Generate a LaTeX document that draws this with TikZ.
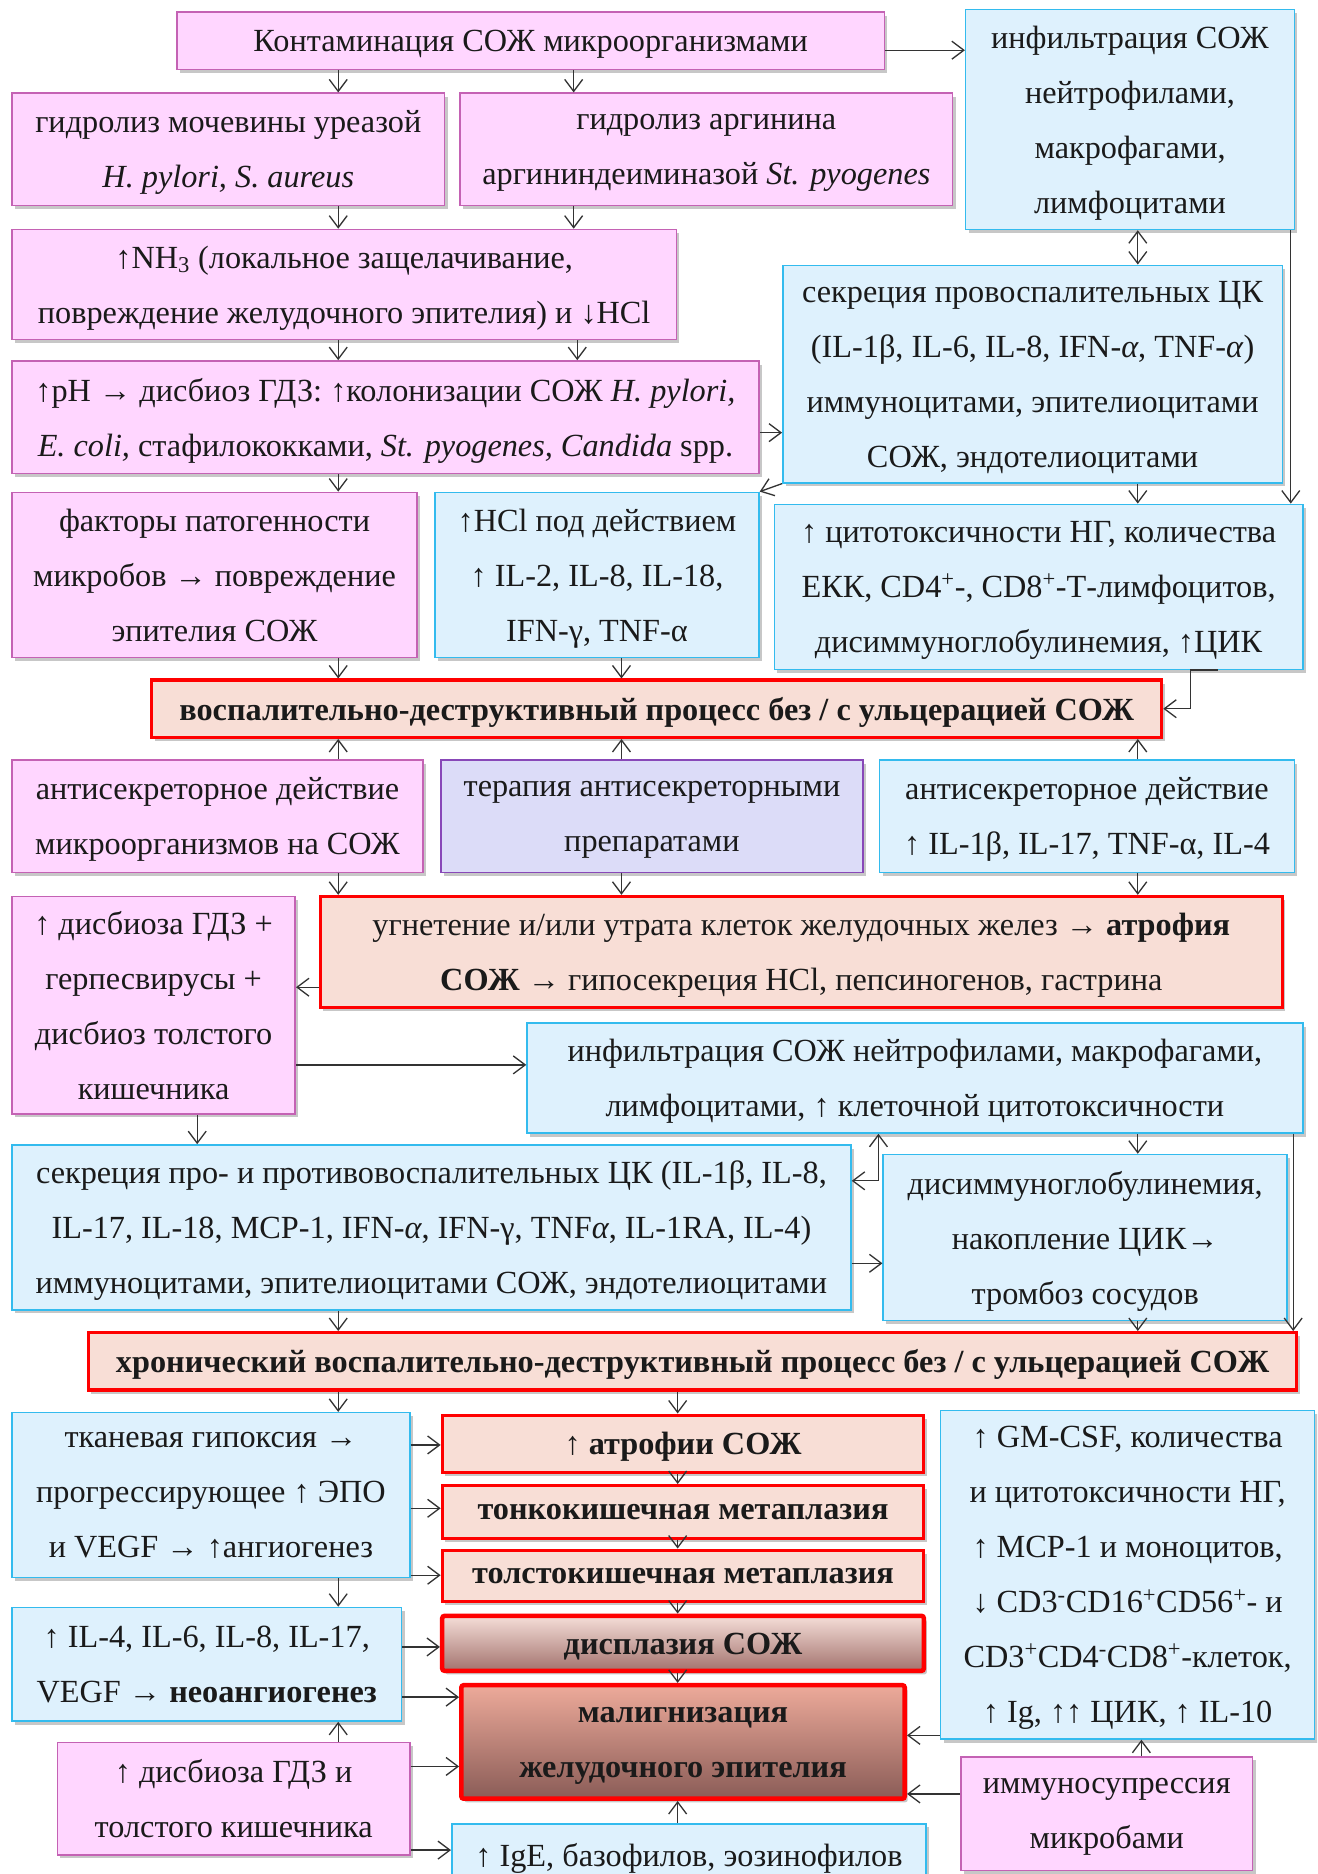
\documentclass[tikz,border=0pt]{standalone}
\usepackage{fontspec}
\setmainfont{Liberation Serif}
\usetikzlibrary{arrows.meta, shadows, calc}
\definecolor{pinkfill}{HTML}{FFD6FF}
\definecolor{pinkline}{HTML}{C462B4}
\definecolor{bluefill}{HTML}{DEF1FD}
\definecolor{blueline}{HTML}{33BBEE}
\definecolor{redfill}{HTML}{F8DED6}
\definecolor{redline}{HTML}{FF0000}
\definecolor{lilacfill}{HTML}{DCDCF8}
\definecolor{lilacline}{HTML}{8848B8}
\definecolor{displtop}{HTML}{F5DED8}
\definecolor{displbot}{HTML}{A3736E}
\definecolor{maligtop}{HTML}{EDAA9A}
\definecolor{maligbot}{HTML}{8A5C57}
\definecolor{arrgray}{HTML}{333333}
\definecolor{txtmain}{HTML}{1A1A1A}
\tikzset{
  basebox/.style={inner sep=0pt, align=center, text=txtmain, text depth=0pt,
                  font=\fontsize{27}{46}\selectfont,
                  drop shadow={shadow xshift=2.5pt, shadow yshift=-3pt,
                               fill=black, opacity=0.22}},
  pinkbox/.style={basebox, draw=pinkline, fill=pinkfill, line width=1.3pt},
  bluebox/.style={basebox, draw=blueline, fill=bluefill, line width=1.3pt},
  lilacbox/.style={basebox, draw=lilacline, fill=lilacfill, line width=1.3pt},
  redbox/.style={basebox, draw=redline, fill=redfill, line width=2.6pt,
                 font=\fontsize{27}{46}\selectfont\bfseries},
  redtext/.style={basebox, draw=redline, fill=redfill, line width=2.6pt},
  shadebox/.style 2 args={redbox, line width=3.8pt, rounded corners=2pt,
                          top color=#1, bottom color=#2},
  sz/.style 2 args={minimum width=#1pt, minimum height=#2pt},
  arr/.style={-{Straight Barb[length=10pt, width=15pt]}, line width=1.1pt, draw=arrgray},
  dblarr/.style={{Straight Barb[length=10pt, width=15pt]}-{Straight Barb[length=10pt, width=15pt]},
                 line width=1.1pt, draw=arrgray},
}

\begin{document}
\begin{tikzpicture}[x=1pt, y=-1pt]
  \clip (0,0) rectangle (1102,1568);
  \fill[white] (0,0) rectangle (1102,1568);

  % top block
  \node[pinkbox, sz={592}{48}] (kont) at (444,34) {Контаминация СОЖ микроорганизмами};
  \node[bluebox, sz={275}{184}] (infil) at (945.5,100) {инфильтрация СОЖ\\нейтрофилами,\\макрофагами,\\лимфоцитами};
  \node[pinkbox, sz={362}{94}] (urea) at (191,125) {гидролиз мочевины уреазой\\\textit{H. pylori, S. aureus}};
  \node[pinkbox, sz={412}{94}] (argin) at (591,125) {гидролиз аргинина\\аргининдеиминазой \textit{St. pyogenes}};
  \node[pinkbox, sz={556}{92}] (nh3) at (288,238) {↑NH\textsubscript{3} (локальное защелачивание,\\повреждение желудочного эпителия) и ↓HCl};
  \node[bluebox, sz={418}{182}] (sekr) at (864,313) {секреция провоспалительных ЦК\\(IL-1β, IL-6, IL-8, IFN-\textit{α}, TNF-\textit{α})\\иммуноцитами, эпителиоцитами\\СОЖ, эндотелиоцитами};
  \node[pinkbox, sz={625}{94}] (ph) at (322.5,349) {↑pH → дисбиоз ГДЗ: ↑колонизации СОЖ \textit{H. pylori,}\\\textit{E. coli,} стафилококками, \textit{St. pyogenes, Candida} spp.};
  \node[pinkbox, sz={339}{138}] (fakt) at (179.5,481) {факторы патогенности\\микробов → повреждение\\эпителия СОЖ};
  \node[bluebox, sz={271}{138}] (hcl) at (499.5,481) {↑HCl под действием\\↑ IL-2, IL-8, IL-18,\\IFN-γ, TNF-α};
  \node[bluebox, sz={442}{138}] (cyto) at (869,491) {↑ цитотоксичности НГ, количества\\ЕКК, CD4\textsuperscript{+}-, CD8\textsuperscript{+}-Т-лимфоцитов,\\дисиммуноглобулинемия, ↑ЦИК};
  \node[redbox, sz={845}{48}] (vdp) at (549.5,593) {воспалительно-деструктивный процесс без / с ульцерацией СОЖ};

  % middle block
  \node[pinkbox, sz={344}{94}] (asm) at (182,683) {антисекреторное действие\\микроорганизмов на СОЖ};
  \node[lilacbox, sz={353}{94}] (ter) at (545.5,683) {терапия антисекреторными\\препаратами};
  \node[bluebox, sz={347}{94}] (asil) at (909.5,683) {антисекреторное действие\\↑ IL-1β, IL-17, TNF-α, IL-4};
  \node[pinkbox, sz={237}{182}] (disb1) at (128.5,841) {↑ дисбиоза ГДЗ +\\герпесвирусы +\\дисбиоз толстого\\кишечника};
  \node[redtext, sz={805}{93}] (ugn) at (670.5,796.5) {угнетение и/или утрата клеток желудочных желез → \textbf{атрофия}\\\textbf{СОЖ} → гипосекреция HCl, пепсиногенов, гастрина};
  \node[bluebox, sz={649}{92}] (infil2) at (765.5,902) {инфильтрация СОЖ нейтрофилами, макрофагами,\\лимфоцитами, ↑ клеточной цитотоксичности};
  \node[bluebox, sz={702}{138}] (sekr2) at (361,1027) {секреция про- и противовоспалительных ЦК (IL-1β, IL-8,\\IL-17, IL-18, MCP-1, IFN-\textit{α}, IFN-γ, TNF\textit{α}, IL-1RA, IL-4)\\иммуноцитами, эпителиоцитами СОЖ, эндотелиоцитами};
  \node[bluebox, sz={338}{139}] (dys) at (908,1035.5) {дисиммуноглобулинемия,\\накопление ЦИК→\\тромбоз сосудов};
  \node[redbox, sz={1011}{48}] (hron) at (579.5,1139) {хронический воспалительно-деструктивный процесс без / с ульцерацией СОЖ};

  % bottom block
  \node[bluebox, sz={333}{138}] (tkan) at (176.5,1251) {тканевая гипоксия →\\прогрессирующее ↑ ЭПО\\и VEGF → ↑ангиогенез};
  \node[redbox, sz={403}{48}] (atr) at (571.5,1208) {↑ атрофии СОЖ};
  \node[redbox, sz={403}{44}] (tonk) at (571.5,1265) {тонкокишечная метаплазия};
  \node[redbox, sz={403}{43}] (tolst) at (571.5,1318.5) {толстокишечная метаплазия};
  \node[shadebox={displtop}{displbot}, sz={403}{46}] (displ) at (571.5,1375) {дисплазия СОЖ};
  \node[bluebox, sz={313}{275}] (gm) at (943.5,1317.5) {↑ GM-CSF, количества\\и цитотоксичности НГ,\\↑ MCP-1 и моноцитов,\\↓ CD3\textsuperscript{-}CD16\textsuperscript{+}CD56\textsuperscript{+}- и\\CD3\textsuperscript{+}CD4\textsuperscript{-}CD8\textsuperscript{+}-клеток,\\↑ Ig, ↑↑ ЦИК, ↑ IL-10};
  \node[bluebox, sz={326}{95}] (il4) at (173,1392.5) {↑ IL-4, IL-6, IL-8, IL-17,\\VEGF → \textbf{неоангиогенез}};
  \node[shadebox={maligtop}{maligbot}, sz={371}{95}] (malig) at (571.5,1457.5) {малигнизация\\желудочного эпителия};
  \node[pinkbox, sz={295}{94}] (disb2) at (195.5,1505) {↑ дисбиоза ГДЗ и\\толстого кишечника};
  \node[pinkbox, sz={244}{95}] (imm) at (926,1517.5) {иммуносупрессия\\микробами};
  \node[bluebox, sz={397}{52}] (ige) at (576.5,1552) {↑ IgE, базофилов, эозинофилов};

  % arrows top
  \draw[arr] (283,0 |- kont.south) -- (283,0 |- urea.north);
  \draw[arr] (480,0 |- kont.south) -- (480,0 |- argin.north);
  \draw[arr] (kont.east |- 0,42) -- (infil.west |- 0,42);
  \draw[arr] (283,0 |- urea.south) -- (283,0 |- nh3.north);
  \draw[arr] (480,0 |- argin.south) -- (480,0 |- nh3.north);
  \draw[arr] (283,0 |- nh3.south) -- (283,0 |- ph.north);
  \draw[arr] (483,0 |- nh3.south) -- (483,0 |- ph.north);
  \draw[dblarr] (952,0 |- infil.south) -- (952,0 |- sekr.north);
  \draw[arr] (1080,0 |- infil.south) -- (1080,0 |- cyto.north);
  \draw[arr] (ph.east |- 0,362) -- (sekr.west |- 0,362);
  \draw[arr] (sekr.south west) -- (hcl.north east);
  \draw[arr] (952,0 |- sekr.south) -- (952,0 |- cyto.north);
  \draw[arr] (283,0 |- ph.south) -- (283,0 |- fakt.north);
  \draw[arr] (283,0 |- fakt.south) -- (283,0 |- vdp.north);
  \draw[arr] (520,0 |- hcl.south) -- (520,0 |- vdp.north);
  \draw[arr] ([xshift=150pt]cyto.south) -- ++(-23,0) |- (vdp.east);

  % arrows middle
  \draw[arr] (283,0 |- asm.north) -- (283,0 |- vdp.south);
  \draw[arr] (520,0 |- ter.north) -- (520,0 |- vdp.south);
  \draw[arr] (952,0 |- asil.north) -- (952,0 |- vdp.south);
  \draw[arr] (283,0 |- asm.south) -- (283,0 |- ugn.north);
  \draw[arr] (520,0 |- ter.south) -- (520,0 |- ugn.north);
  \draw[arr] (952,0 |- asil.south) -- (952,0 |- ugn.north);
  \draw[arr] (ugn.west |- 0,826) -- (disb1.east |- 0,826);
  \draw[arr] (disb1.east |- 0,891) -- (infil2.west |- 0,891);
  \draw[arr] (165,0 |- disb1.south) -- (165,0 |- sekr2.north);
  \draw[dblarr] (sekr2.east |- 0,988) -| (735,0 |- infil2.south);
  \draw[arr] (sekr2.east |- 0,1057) -- (dys.west |- 0,1057);
  \draw[arr] (952,0 |- infil2.south) -- (952,0 |- dys.north);
  \draw[arr] (1082,0 |- infil2.south) -- (1082,0 |- hron.north);
  \draw[arr] (283,0 |- sekr2.south) -- (283,0 |- hron.north);
  \draw[arr] (952,0 |- dys.south) -- (952,0 |- hron.north);

  % arrows bottom
  \draw[arr] (283,0 |- hron.south) -- (283,0 |- tkan.north);
  \draw[arr] (567,0 |- hron.south) -- (567,0 |- atr.north);
  \draw[arr] (567,0 |- atr.south) -- (567,0 |- tonk.north);
  \draw[arr] (567,0 |- tonk.south) -- (567,0 |- tolst.north);
  \draw[arr] (567,0 |- tolst.south) -- (567,0 |- displ.north);
  \draw[arr] (567,0 |- displ.south) -- (567,0 |- malig.north);
  \draw[arr] (tkan.east |- 0,1209) -- (atr.west |- 0,1209);
  \draw[arr] (tkan.east |- 0,1262) -- (tonk.west |- 0,1262);
  \draw[arr] (tkan.east |- 0,1318) -- (tolst.west |- 0,1318);
  \draw[arr] (283,0 |- tkan.south) -- (283,0 |- il4.north);
  \draw[arr] (il4.east |- 0,1378) -- (displ.west |- 0,1378);
  \draw[arr] (il4.east |- 0,1420) -- (malig.west |- 0,1420);
  \draw[arr] (283,0 |- disb2.north) -- (283,0 |- il4.south);
  \draw[arr] (disb2.east |- 0,1478) -- (malig.west |- 0,1478);
  \draw[arr] (disb2.east |- 0,1548) -- (ige.west |- 0,1548);
  \draw[arr] (567,0 |- ige.north) -- (567,0 |- malig.south);
  \draw[arr] (gm.west |- 0,1452) -- (malig.east |- 0,1452);
  \draw[arr] (imm.west |- 0,1501) -- (malig.east |- 0,1501);
  \draw[arr] (955,0 |- imm.north) -- (955,0 |- gm.south);
\end{tikzpicture}
\end{document}
